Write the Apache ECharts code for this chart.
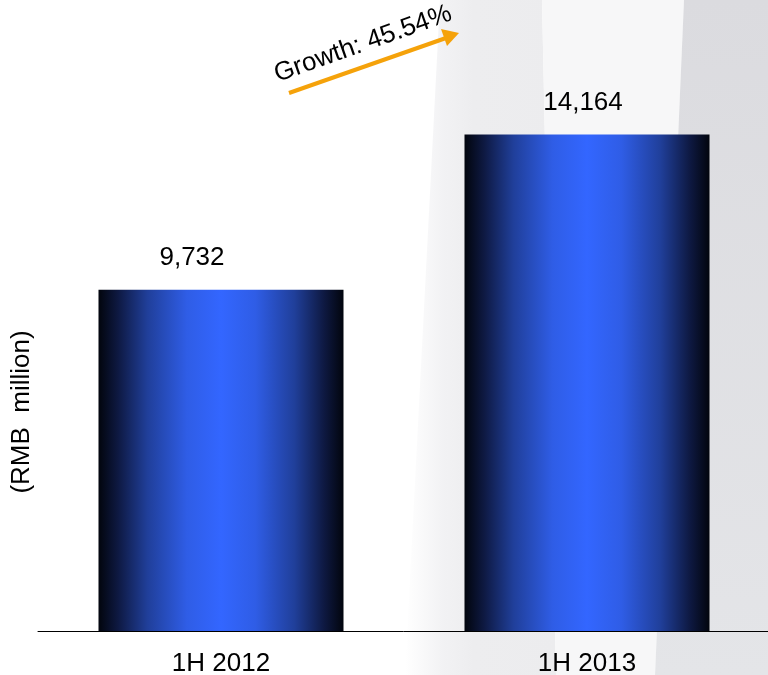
<!DOCTYPE html>
<html>
<head>
<meta charset="utf-8">
<script src="https://cdn.jsdelivr.net/npm/echarts@6/dist/echarts.min.js"></script>
<style>
  html, body { margin: 0; padding: 0; background: #ffffff; }
  #chart { width: 768px; height: 675px; }
</style>
</head>
<body>
<div id="chart"></div>
<script>
// Half-year totals, RMB million
const periods = ['1H 2012', '1H 2013'];
const totals = [9732, 14164];
const growthText = 'Growth: 45.54%';
const axisName = '(RMB  million)';

const fmt = v => String(v).replace(/\B(?=(\d{3})+(?!\d))/g, ',');

const barFill = {
  type: 'linear', x: 0, y: 0, x2: 1, y2: 0,
  colorStops: [
    { offset: 0.00, color: '#02050d' },
    { offset: 0.08, color: '#0e1942' },
    { offset: 0.20, color: '#203f9a' },
    { offset: 0.36, color: '#2f5de6' },
    { offset: 0.50, color: '#3366ff' },
    { offset: 0.64, color: '#2f5de6' },
    { offset: 0.80, color: '#203f9a' },
    { offset: 0.92, color: '#0e1942' },
    { offset: 1.00, color: '#02050d' }
  ]
};

const labelShift = [[-29, 0], [-4, 0]];

const chart = echarts.init(document.getElementById('chart'));
chart.setOption({
  animation: false,
  backgroundColor: '#ffffff',
  textStyle: { fontFamily: 'Liberation Sans, Arial, sans-serif' },
  grid: { left: 38, right: -2, top: 0, bottom: 44, containLabel: false, outerBoundsMode: 'none' },
  xAxis: {
    type: 'category',
    data: periods,
    axisLine: { show: true, lineStyle: { color: '#000000', width: 1 } },
    axisTick: { show: false },
    axisLabel: { color: '#000000', fontSize: 26, margin: 20 },
    splitLine: { show: false }
  },
  yAxis: {
    type: 'value',
    min: 0,
    max: 18000,
    axisLine: { show: false },
    axisTick: { show: false },
    axisLabel: { show: false },
    splitLine: { show: false }
  },
  graphic: [
    // light hatched facade strip, soft left edge
    {
      type: 'polygon', z: -10, silent: true,
      shape: { points: [[440, 0], [542, 0], [556, 675], [405, 675]] },
      style: {
        fill: {
          type: 'linear', x: 0, y: 0, x2: 1, y2: 0,
          colorStops: [
            { offset: 0, color: '#ffffff' },
            { offset: 0.25, color: '#f2f2f4' },
            { offset: 0.45, color: '#ededef' },
            { offset: 1, color: '#ececee' }
          ]
        }
      }
    },
    // pale middle panel
    {
      type: 'polygon', z: -10, silent: true,
      shape: { points: [[542, 0], [684, 0], [655, 675], [556, 675]] },
      style: { fill: '#f7f7f8' }
    },
    // grey right face
    {
      type: 'polygon', z: -10, silent: true,
      shape: { points: [[684, 0], [768, 0], [768, 675], [655, 675]] },
      style: {
        fill: {
          type: 'linear', x: 0, y: 0, x2: 0, y2: 1,
          colorStops: [
            { offset: 0, color: '#dbdbdf' },
            { offset: 1, color: '#e4e5e8' }
          ]
        }
      }
    },
    // value axis caption
    {
      type: 'text', z: 20, silent: true,
      x: 22, y: 412,
      rotation: Math.PI / 2,
      style: {
        text: axisName,
        fill: '#000000',
        font: '26px "Liberation Sans", Arial, sans-serif',
        align: 'center',
        verticalAlign: 'middle'
      }
    },
    // growth arrow
    {
      type: 'line', z: 20, silent: true,
      shape: { x1: 289, y1: 93, x2: 446, y2: 38 },
      style: { stroke: '#f5a20a', lineWidth: 4 }
    },
    {
      type: 'polygon', z: 20, silent: true,
      shape: { points: [[459, 33], [441, 29], [447, 46]] },
      style: { fill: '#f5a20a' }
    },
    {
      type: 'text', z: 20, silent: true,
      x: 363, y: 44,
      rotation: 19.5 * Math.PI / 180,
      style: {
        text: growthText,
        fill: '#000000',
        font: '26px "Liberation Sans", Arial, sans-serif',
        align: 'center',
        verticalAlign: 'middle'
      }
    }
  ],
  series: [{
    type: 'bar',
    barWidth: 245,
    data: totals.map((v, i) => ({
      value: v,
      label: { offset: labelShift[i] }
    })),
    itemStyle: { color: barFill },
    label: {
      show: true,
      position: 'top',
      distance: 19,
      color: '#000000',
      fontSize: 26,
      formatter: p => fmt(p.value)
    }
  }]
});
</script>
</body>
</html>
